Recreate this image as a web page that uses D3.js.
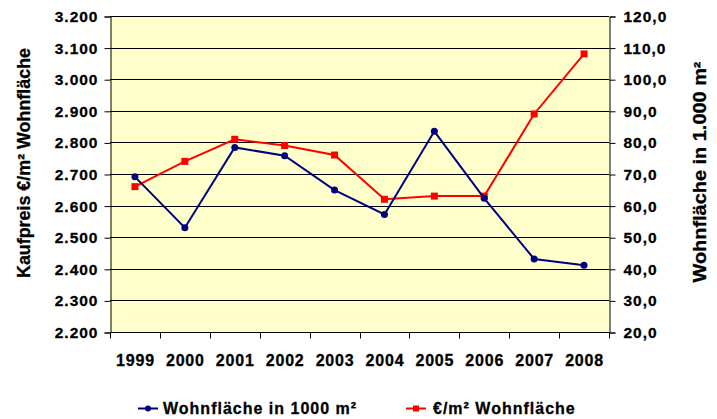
<!doctype html>
<html>
<head>
<meta charset="utf-8">
<script src="https://cdn.jsdelivr.net/npm/d3@7"></script>
<style>
  body { margin: 0; background: #fff; }
  svg text { font-family: "Liberation Sans", Arial, sans-serif; font-weight: bold; fill: #000; stroke: #000; stroke-width: 0.3px; }
</style>
</head>
<body>
<svg id="chart" width="717" height="419"></svg>
<script>
// data
const years = ["1999", "2000", "2001", "2002", "2003", "2004", "2005", "2006", "2007", "2008"];
const preis = [2660, 2740, 2810, 2790, 2760, 2620, 2630, 2630, 2890, 3080];   // €/m², left axis
const flaeche = [69.1, 53.0, 78.4, 75.8, 64.9, 57.2, 83.5, 62.3, 43.1, 41.1]; // 1000 m², right axis
const leftTicks = [2200, 2300, 2400, 2500, 2600, 2700, 2800, 2900, 3000, 3100, 3200];
const rightTicks = [20, 30, 40, 50, 60, 70, 80, 90, 100, 110, 120];

const pLeft = 110, pRight = 609, pTop = 16, pBottom = 332;

const svg = d3.select("#chart");

let x = d3.scaleBand().domain(years).range([pLeft, pRight]);
let yL = d3.scaleLinear().domain([2200, 3200]).range([pBottom, pTop]);
let yR = d3.scaleLinear().domain([20, 120]).range([pBottom, pTop]);

// plot background
svg.append("rect")
  .attr("x", pLeft).attr("y", pTop)
  .attr("width", pRight - pLeft).attr("height", pBottom - pTop)
  .attr("fill", "#ffffcc");

// gridlines
svg.append("g")
  .selectAll("line")
  .data(leftTicks)
  .join("line")
  .attr("x1", pLeft).attr("x2", pRight)
  .attr("y1", d => Math.round(yL(d)) + 0.5)
  .attr("y2", d => Math.round(yL(d)) + 0.5)
  .attr("stroke", "#000")
  .attr("stroke-width", 1);

// formatting like the german excel chart
const fmtL = d => d3.format(",")(d).replace(",", ".");
const fmtR = d => d.toFixed(1).replace(".", ",");

// left axis
let gL = svg.append("g")
  .attr("transform", "translate(" + (pLeft + 0.5) + ",0.5)")
  .call(d3.axisLeft(yL).tickValues(leftTicks).tickSize(6).tickPadding(6).tickFormat(fmtL));
gL.selectAll("text").style("font-size", "15.5px").style("letter-spacing", "1px");

// right axis
let gR = svg.append("g")
  .attr("transform", "translate(" + (pRight + 0.5) + ",0.5)")
  .call(d3.axisRight(yR).tickValues(rightTicks).tickSize(6).tickPadding(8).tickFormat(fmtR));
gR.selectAll("text").style("font-size", "15.5px").style("letter-spacing", "1px");

// x axis, ticks sit between categories
let gX = svg.append("g")
  .attr("transform", "translate(0," + (pBottom + 0.5) + ")");
gX.append("line")
  .attr("x1", pLeft).attr("x2", pRight + 1)
  .attr("stroke", "#000");
gX.selectAll(".tk")
  .data(years.concat(["end"]))
  .join("line")
  .attr("class", "tk")
  .attr("x1", (d, i) => Math.round(pLeft + i * x.step()) + 0.5)
  .attr("x2", (d, i) => Math.round(pLeft + i * x.step()) + 0.5)
  .attr("y1", 0).attr("y2", 6)
  .attr("stroke", "#000");
gX.selectAll("text")
  .data(years)
  .join("text")
  .attr("x", d => x(d) + x.bandwidth() / 2 + 0.5)
  .attr("y", 33)
  .attr("text-anchor", "middle")
  .style("font-size", "16px")
  .style("letter-spacing", "0.8px")
  .text(d => d);

svg.selectAll(".domain").attr("stroke", "#000");
svg.selectAll(".tick line").attr("stroke", "#000");

const cx = d => x(d) + x.bandwidth() / 2;

// €/m² line (red, squares)
svg.append("path")
  .datum(preis)
  .attr("fill", "none")
  .attr("stroke", "#ff0000")
  .attr("stroke-width", 2)
  .attr("d", d3.line().x((d, i) => cx(years[i])).y(d => yL(d)));
svg.append("g")
  .selectAll("rect")
  .data(preis)
  .join("rect")
  .attr("x", (d, i) => cx(years[i]) - 3.5)
  .attr("y", d => yL(d) - 3.5)
  .attr("width", 7).attr("height", 7)
  .attr("fill", "#ff0000");

// Wohnfläche line (navy, dots)
svg.append("path")
  .datum(flaeche)
  .attr("fill", "none")
  .attr("stroke", "#000080")
  .attr("stroke-width", 2)
  .attr("d", d3.line().x((d, i) => cx(years[i])).y(d => yR(d)));
svg.append("g")
  .selectAll("circle")
  .data(flaeche)
  .join("circle")
  .attr("cx", (d, i) => cx(years[i]))
  .attr("cy", d => yR(d))
  .attr("r", 3.5)
  .attr("fill", "#000080");

// axis titles
svg.append("text")
  .attr("transform", "translate(30,163) rotate(-90)")
  .attr("text-anchor", "middle")
  .attr("textLength", 230)
  .attr("lengthAdjust", "spacingAndGlyphs")
  .style("font-size", "18px")
  .text("Kaufpreis €/m² Wohnfläche");

svg.append("text")
  .attr("transform", "translate(706,172) rotate(-90)")
  .attr("text-anchor", "middle")
  .attr("textLength", 221)
  .attr("lengthAdjust", "spacingAndGlyphs")
  .style("font-size", "18px")
  .text("Wohnfläche in 1.000 m²");

// legend
let lg = svg.append("g");
lg.append("line").attr("x1", 138).attr("x2", 158).attr("y1", 408.5).attr("y2", 408.5)
  .attr("stroke", "#000080").attr("stroke-width", 2);
lg.append("circle").attr("cx", 148).attr("cy", 408.5).attr("r", 3).attr("fill", "#000080");
lg.append("text").attr("x", 163).attr("y", 414).style("font-size", "16px").style("letter-spacing", "1px")
  .text("Wohnfläche in 1000 m²");

lg.append("line").attr("x1", 406).attr("x2", 426).attr("y1", 408.5).attr("y2", 408.5)
  .attr("stroke", "#ff0000").attr("stroke-width", 2);
lg.append("rect").attr("x", 413).attr("y", 405.5).attr("width", 6).attr("height", 6).attr("fill", "#ff0000");
lg.append("text").attr("x", 433).attr("y", 414).style("font-size", "16px").style("letter-spacing", "1px")
  .text("€/m² Wohnfläche");
</script>
</body>
</html>
